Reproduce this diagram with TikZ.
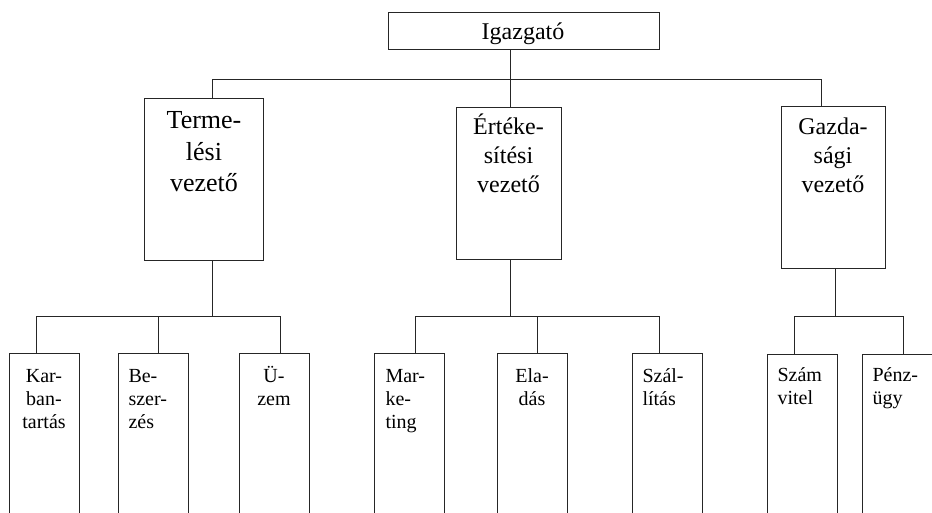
\documentclass[tikz,border=0pt]{standalone}
\usepackage{fontspec}
\setmainfont{Liberation Serif}
\newcommand\mystack[2]{\begin{tabular}[t]{@{}#1@{}}#2\end{tabular}}
\newcommand\fbig{\fontsize{26}{31.5}\selectfont}
\newcommand\fmid{\fontsize{24}{29}\selectfont}
\newcommand\fsmall{\fontsize{20}{23.3}\selectfont}
\begin{document}
\begin{tikzpicture}[x=1pt,y=-1pt,line width=1pt,
  box/.style={draw=black!85,line width=1pt,rectangle,inner sep=0pt,anchor=north west},
  leaf/.style={box,minimum width=70pt,minimum height=200pt},
  lbl/.style={inner sep=0pt,anchor=base},
  lblw/.style={inner sep=0pt,anchor=base west},
  wire/.style={draw=black!85,line width=1pt}]
\useasboundingbox (0,0) rectangle (932,513);
\clip (0,0) rectangle (932,513);
\fill[white] (0,0) rectangle (932,513);

% boxes
\node[box,minimum width=271pt,minimum height=37pt] (ig) at (388,12) {};
\node[box,minimum width=119pt,minimum height=162pt] (tv) at (144,98) {};
\node[box,minimum width=105pt,minimum height=152pt] (ev) at (456,107) {};
\node[box,minimum width=104pt,minimum height=162pt] (gv) at (781,106) {};

\node[leaf] (kb) at (9,353) {};
\node[leaf] (bsz) at (118,353) {};
\node[leaf] (uz) at (239,353) {};
\node[leaf] (mk) at (374,353) {};
\node[leaf] (el) at (497,353) {};
\node[leaf] (sz) at (632,353) {};
\node[leaf] (szv) at (767,354) {};
\node[leaf] (pu) at (862,354) {};

% texts
\node[lbl,font=\fmid] (igt) at (523,40) {Igazgató};
\node[lbl,font=\fbig] (tvt) at (204,129) {\mystack{c}{Terme-\\lési\\vezető}};
\node[lbl,font=\fmid] (evt) at (508.5,135) {\mystack{c}{Értéke-\\sítési\\vezető}};
\node[lbl,font=\fmid] (gvt) at (833,135) {\mystack{c}{Gazda-\\sági\\vezető}};

\node[lbl,font=\fsmall] (kbt) at (44,382) {\mystack{c}{Kar-\\ban-\\tartás}};
\node[lblw,font=\fsmall] (bszt) at (128,382) {\mystack{l}{Be-\\szer-\\zés}};
\node[lbl,font=\fsmall] (uzt) at (274,382) {\mystack{c}{Ü-\\zem}};
\node[lblw,font=\fsmall] (mkt) at (385,382) {\mystack{l}{Mar-\\ke-\\ting}};
\node[lbl,font=\fsmall] (elt) at (532,382) {\mystack{c}{Ela-\\dás}};
\node[lblw,font=\fsmall] (szt) at (642,382) {\mystack{l}{Szál-\\lítás}};
\node[lblw,font=\fsmall] (szvt) at (777,381) {\mystack{l}{Szám\\vitel}};
\node[lblw,font=\fsmall] (put) at (872,381) {\mystack{l}{Pénz-\\ügy}};

% bus coordinates
\coordinate (t1) at (212,80);
\coordinate (t2) at (510,80);
\coordinate (t3) at (821,80);
\coordinate (a1) at (212,316);
\coordinate (a2) at (510,316);
\coordinate (a3) at (835,316);
\coordinate (c11) at (36,316);
\coordinate (c12) at (158,316);
\coordinate (c13) at (280,316);
\coordinate (c21) at (415,316);
\coordinate (c22) at (537,316);
\coordinate (c23) at (659,316);
\coordinate (c31) at (794,316);
\coordinate (c32) at (903,316);

% connectors
\draw[wire] (ig.south -| t2) -- (t2);
\draw[wire] (tv.north -| t1) -- (t1) -- (t3) -- (gv.north -| t3);
\draw[wire] (t2) -- (ev.north -| t2);

\draw[wire] (tv.south -| a1) -- (a1);
\draw[wire] (kb.north -| c11) -- (c11) -- (c13) -- (uz.north -| c13);
\draw[wire] (c12) -- (bsz.north -| c12);

\draw[wire] (ev.south -| a2) -- (a2);
\draw[wire] (mk.north -| c21) -- (c21) -- (c23) -- (sz.north -| c23);
\draw[wire] (c22) -- (el.north -| c22);

\draw[wire] (gv.south -| a3) -- (a3);
\draw[wire] (szv.north -| c31) -- (c31) -- (c32) -- (pu.north -| c32);
\end{tikzpicture}
\end{document}
